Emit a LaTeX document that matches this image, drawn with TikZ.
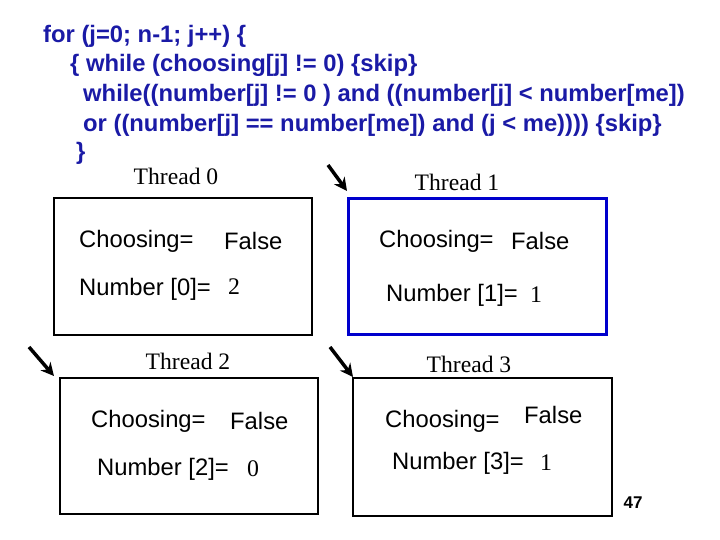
\documentclass[tikz,border=0pt]{standalone}
\usepackage{fontspec}
\setmainfont{Liberation Serif}
\setsansfont{Liberation Sans}
\usetikzlibrary{arrows.meta}
\definecolor{codeblue}{HTML}{1A1AA6}
\begin{document}
\begin{tikzpicture}[x=1pt,y=-1pt,
  code/.style={anchor=west,inner sep=0,font=\sffamily\bfseries\fontsize{23.8}{26}\selectfont,text=codeblue},
  lbl/.style={anchor=west,inner sep=0,font=\sffamily\fontsize{23.8}{26}\selectfont},
  num/.style={anchor=west,inner sep=0,font=\fontsize{23.8}{26}\selectfont},
  thr/.style={inner sep=0,font=\fontsize{23.6}{26}\selectfont},
  tbox/.style={draw,line width=1.5pt},
  arr/.style={line width=3.5pt,-{Stealth[length=13pt,width=13pt]}}]
\useasboundingbox (0,0) rectangle (720,540);
\node[code] (c1) at (43,36) {for (j=0; n-1; j++) \{};
\node[code] (c2) at (70,65) {\{ while (choosing[j] != 0) \{skip\}};
\node[code] (c3) at (83,95) {while((number[j] != 0 ) and ((number[j] < number[me])};
\node[code] (c4) at (83,125) {or ((number[j] == number[me]) and (j < me)))) \{skip\}};
\node[code] (c5) at (76,153) {\}};
\node[thr] (t0) at (176,176) {Thread 0};
\node[thr] (t1) at (457,182) {Thread 1};
\node[thr] (t2) at (188,361) {Thread 2};
\node[thr] (t3) at (469,364) {Thread 3};
\draw[tbox] (54,198) rectangle (312,335);
\draw[tbox,draw=blue!80!black,line width=3pt] (348,199) rectangle (606,334);
\draw[tbox] (60,378) rectangle (318,514);
\draw[tbox] (353,378) rectangle (612,516);
\node[lbl] (a0) at (79,241) {Choosing=};
\node[lbl] (b0) at (224,241) {False};
\node[lbl] (n0) at (79,289) {Number [0]=};
\node[num] (v0) at (228,287) {2};
\node[lbl] (a1) at (379,241) {Choosing=};
\node[lbl] (b1) at (511,241) {False};
\node[lbl] (n1) at (386,295) {Number [1]=};
\node[num] (v1) at (530,295) {1};
\node[lbl] (a2) at (91,421) {Choosing=};
\node[lbl] (b2) at (230,421) {False};
\node[lbl] (n2) at (97,469) {Number [2]=};
\node[num] (v2) at (247,469) {0};
\node[lbl] (a3) at (385,421) {Choosing=};
\node[lbl] (b3) at (524,415) {False};
\node[lbl] (n3) at (392,463) {Number [3]=};
\node[num] (v3) at (540,463) {1};
\node[inner sep=0,font=\sffamily\bfseries\fontsize{17}{19}\selectfont] (p) at (633,503) {47};
\coordinate (s1) at (328,165); \coordinate (e1) at (347,191);
\coordinate (s2) at (29,347); \coordinate (e2) at (54,376);
\coordinate (s3) at (330,347); \coordinate (e3) at (353,377);
\draw[arr] (s1) -- (e1);
\draw[arr] (s2) -- (e2);
\draw[arr] (s3) -- (e3);
\end{tikzpicture}
\end{document}
